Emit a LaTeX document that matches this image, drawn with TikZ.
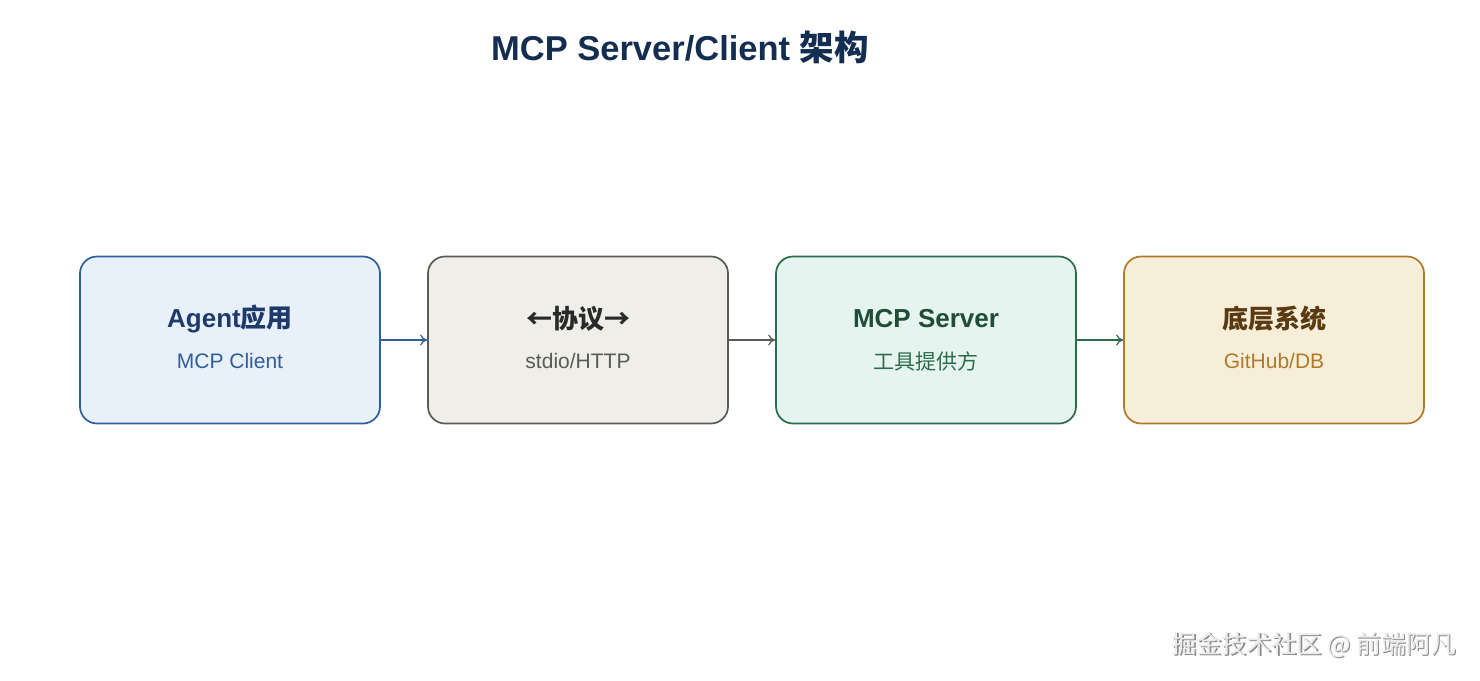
\documentclass[tikz,border=0pt]{standalone}
\usepackage{fontspec}
\setmainfont{Liberation Sans}
\newfontfamily\cjk{Noto Sans CJK SC}
\usetikzlibrary{arrows.meta}
\definecolor{ttl}{HTML}{142E52}
\definecolor{aF}{HTML}{E8F1FA}\definecolor{aD}{HTML}{2F5E9B}\definecolor{aT}{HTML}{1E3A6B}
\definecolor{bF}{HTML}{EFEEE9}\definecolor{bD}{HTML}{5A5A58}\definecolor{bT}{HTML}{2A2A2A}
\definecolor{cF}{HTML}{E5F4EE}\definecolor{cD}{HTML}{2D6B4E}\definecolor{cT}{HTML}{1F4D36}
\definecolor{dF}{HTML}{F7EED9}\definecolor{dD}{HTML}{B07A2A}\definecolor{dT}{HTML}{5A3A10}
\tikzset{
  box/.style={draw, line width=1.7pt, rounded corners=17pt, minimum width=300pt, minimum height=167pt, inner sep=0pt},
  head/.style={font=\fontsize{26}{30}\selectfont\bfseries},
  sub/.style={font=\fontsize{21}{24}\selectfont},
  conn/.style={line width=1.2pt, -{To[length=7pt,width=11pt]}},
}
\begin{document}
\begin{tikzpicture}[x=1pt,y=-1pt]
\useasboundingbox (0,0) rectangle (1480,680);
\fill[white] (0,0) rectangle (1480,680);
\node[font=\fontsize{34.5}{40}\selectfont\bfseries, text=ttl] (title) at (680,47) {MCP Server/Client {\cjk 架构}};
\node[box, draw=aD, fill=aF] (a) at (230,340) {};
\node[box, draw=bD, fill=bF] (b) at (578,340) {};
\node[box, draw=cD, fill=cF] (c) at (926,340) {};
\node[box, draw=dD, fill=dF] (d) at (1274,340) {};
\node[head, text=aT] (at) at (230,319) {Agent{\cjk 应用}};
\node[sub, text=aD] (as) at (230,361) {MCP Client};
\node[head, text=bT] (bt) at (578,319) {\cjk ←协议→};
\node[sub, text=bD] (bs) at (578,361) {stdio/HTTP};
\node[head, text=cT] (ct) at (926,319) {MCP Server};
\node[sub, text=cD] (cs) at (926,361) {\cjk 工具提供方};
\node[head, text=dT] (dt) at (1274,319) {\cjk 底层系统};
\node[sub, text=dD] (ds) at (1274,361) {GitHub/DB};
\draw[conn, draw=aD] (a.east) -- (b.west);
\draw[conn, draw=bD] (b.east) -- (c.west);
\draw[conn, draw=cD] (c.east) -- (d.west);
\node[font=\cjk\fontsize{25}{28}\selectfont, text=black!45, anchor=east] (wm0) at (1461.5,646.5) {掘金技术社区 @ 前端阿凡};
\node[font=\cjk\fontsize{25}{28}\selectfont, text=white!92!black, anchor=east] (wm) at (1460,645) {掘金技术社区 @ 前端阿凡};
\end{tikzpicture}
\end{document}
